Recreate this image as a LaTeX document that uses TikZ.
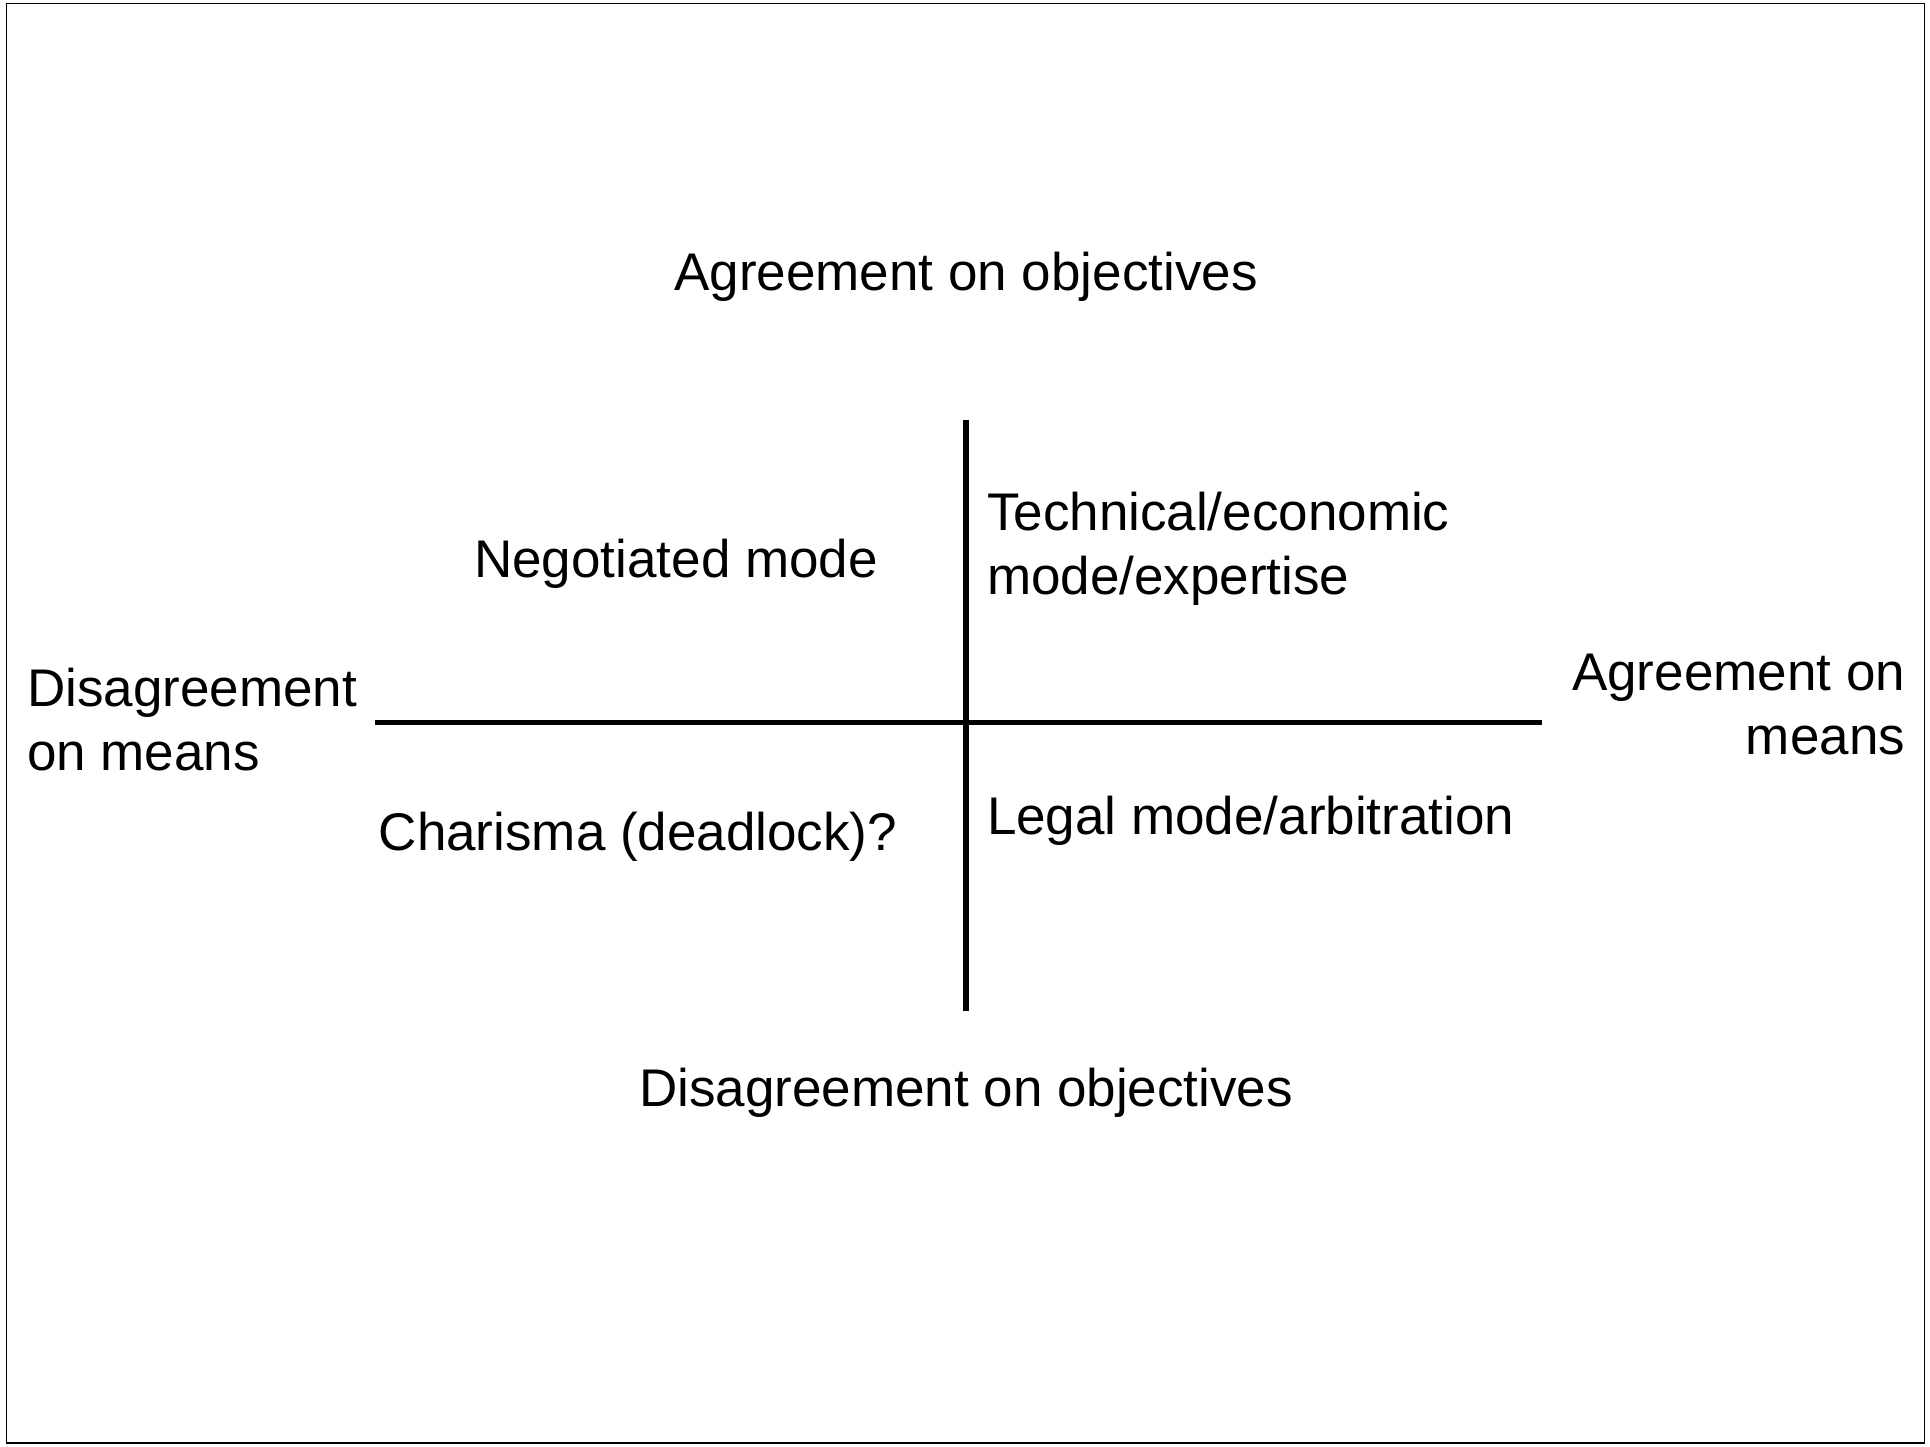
\documentclass[tikz,border=0pt]{standalone}
\usepackage{fontspec}
\setmainfont{Liberation Sans}
\begin{document}
\begin{tikzpicture}[x=0.5pt,y=-0.5pt,
  lbl/.style={inner sep=0pt,outer sep=0pt,font=\fontsize{26.5}{31.8}\selectfont},
  axis/.style={line width=2.9pt,line cap=butt}]
% page and frame
\useasboundingbox (0,0) rectangle (1930,1446);
\draw[line width=0.8pt] (6.5,3.5) rectangle (1924.5,1443);
% axes
\coordinate (top) at (966,420);
\coordinate (bot) at (966,1011);
\coordinate (lft) at (375,722.5);
\coordinate (rgt) at (1542,722.5);
\draw[axis] (top) -- (bot);
\draw[axis] (lft) -- (rgt);
% axis labels (multi-line nodes are placed by the baseline of their last line)
\node[lbl,anchor=base] (aobj) at (966,290) {Agreement on objectives};
\node[lbl,anchor=base] (dobj) at (966,1106) {Disagreement on objectives};
\node[lbl,anchor=base west,align=left] (dmeans) at (27,770) {Disagreement\\on means};
\node[lbl,anchor=base east,align=right] (ameans) at (1905,754) {Agreement on\\means};
% quadrant labels
\node[lbl,anchor=base] (neg) at (676,577) {Negotiated mode};
\node[lbl,anchor=base west,align=left] (tech) at (987,594) {Technical/economic\\mode/expertise};
\node[lbl,anchor=base] (char) at (638,850) {Charisma (deadlock)?};
\node[lbl,anchor=base west] (legal) at (987,834) {Legal mode/arbitration};
\end{tikzpicture}
\end{document}
